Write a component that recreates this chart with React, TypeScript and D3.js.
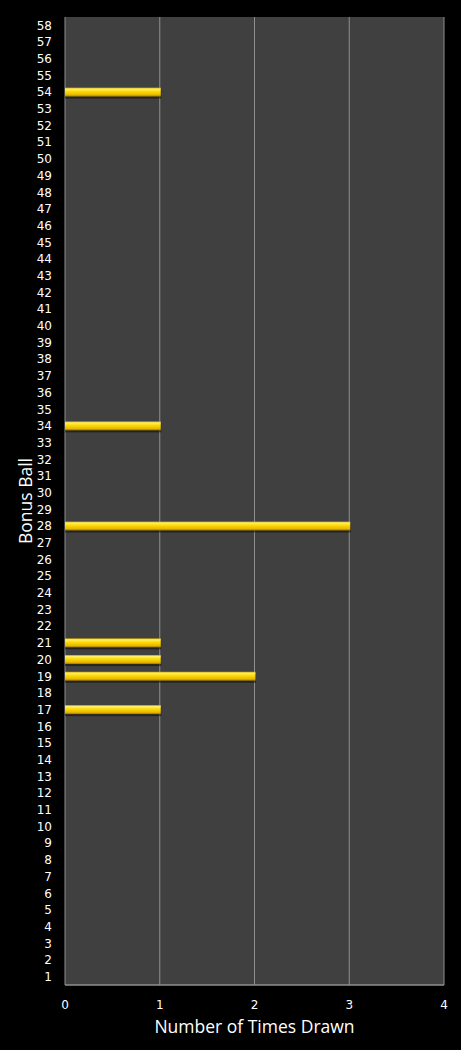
import React from "react";
import * as d3 from "d3";

const balls: number[] = d3.range(1, 59);
const drawnBalls: number[] = [17, 19, 20, 21, 28, 34, 54];
const drawnCounts: number[] = [1, 2, 1, 1, 3, 1, 1];
const xTicks: number[] = [0, 1, 2, 3, 4];

const W = 461;
const H = 1050;
const M = { left: 65, right: 17, top: 17, bottom: 65 };

export default function App() {
  const x = d3.scaleLinear().domain([0, 4]).range([M.left, W - M.right]);
  const y = d3
    .scaleBand<number>()
    .domain(balls.slice().reverse())
    .range([M.top, H - M.bottom])
    .paddingInner(0.46)
    .paddingOuter(0.23);
  const bw = y.bandwidth();
  const font = "'DejaVu Sans', Verdana, sans-serif";

  return (
    <svg
      width={W}
      height={H}
      style={{ position: "absolute", left: 0, top: 0, display: "block" }}
    >
      <defs>
        <linearGradient id="gold" x1="0" y1="0" x2="0" y2="1">
          <stop offset="0" stopColor="#c9a100" />
          <stop offset="0.15" stopColor="#fff06a" />
          <stop offset="0.45" stopColor="#ffd800" />
          <stop offset="0.8" stopColor="#e6b800" />
          <stop offset="1" stopColor="#9a7400" />
        </linearGradient>
      </defs>
      <rect x={0} y={0} width={W} height={H} fill="#000" />
      <rect
        x={M.left}
        y={M.top}
        width={W - M.left - M.right}
        height={H - M.top - M.bottom}
        fill="#404040"
      />
      {xTicks.map((t) => (
        <line
          key={"g" + t}
          x1={x(t)}
          x2={x(t)}
          y1={M.top}
          y2={H - M.bottom}
          stroke="#8f8f8f"
          strokeWidth={1}
        />
      ))}
      <line
        x1={M.left}
        x2={W - M.right}
        y1={H - M.bottom}
        y2={H - M.bottom}
        stroke="#8f8f8f"
        strokeWidth={1.5}
      />
      {drawnBalls.map((b, i) => {
        const yy = y(b)!;
        return (
          <g key={"b" + b}>
            <rect
              x={x(0)}
              y={yy + 2}
              width={x(drawnCounts[i]) - x(0) + 1.5}
              height={bw}
              fill="#000"
              opacity={0.45}
            />
            <rect
              x={x(0)}
              y={yy}
              width={x(drawnCounts[i]) - x(0) + 1}
              height={bw}
              fill="url(#gold)"
            />
          </g>
        );
      })}
      {balls.map((b) => (
        <text
          key={"l" + b}
          x={52}
          y={y(b)! + bw / 2}
          dy="0.36em"
          textAnchor="end"
          fill="#fff"
          fontFamily={font}
          fontSize={12}
        >
          {b}
        </text>
      ))}
      {xTicks.map((t) => (
        <text
          key={"x" + t}
          x={x(t)}
          y={1005}
          dy="0.36em"
          textAnchor="middle"
          fill="#fff"
          fontFamily={font}
          fontSize={12}
        >
          {t}
        </text>
      ))}
      <text
        x={(M.left + W - M.right) / 2}
        y={1027}
        dy="0.36em"
        textAnchor="middle"
        fill="#fff"
        fontFamily="'Open Sans', sans-serif"
        fontSize={17.5}
      >
        Number of Times Drawn
      </text>
      <text
        transform={`translate(26, ${(M.top + H - M.bottom) / 2}) rotate(-90)`}
        dy="0.36em"
        textAnchor="middle"
        fill="#fff"
        fontFamily="'Open Sans', sans-serif"
        fontSize={17.5}
      >
        Bonus Ball
      </text>
    </svg>
  );
}
